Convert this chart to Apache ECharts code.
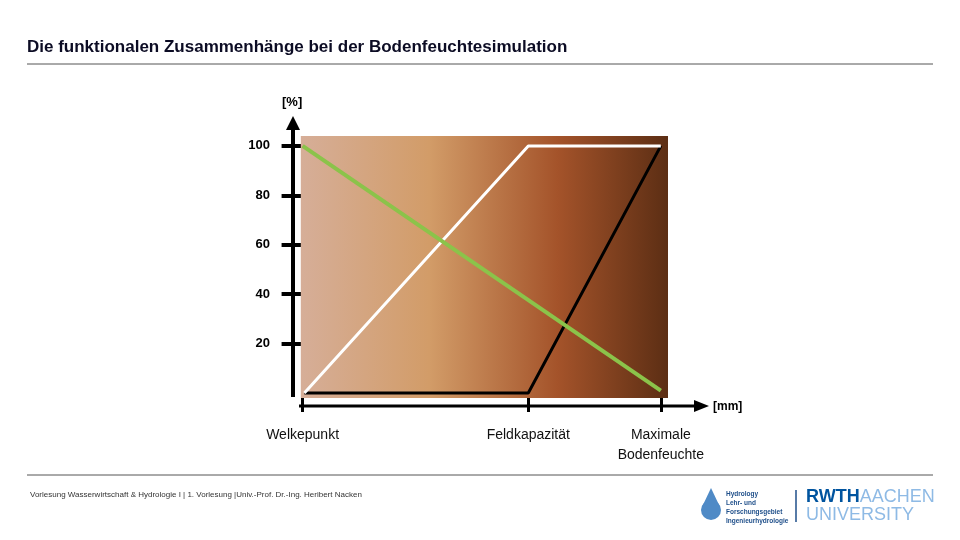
<!DOCTYPE html>
<html><head><meta charset="utf-8">
<script src="https://cdn.jsdelivr.net/npm/echarts@6/dist/echarts.min.js"></script>
<style>html,body{margin:0;padding:0;background:#fff}#c{width:960px;height:540px}</style>
</head><body><div id="c"></div>
<script>
// x: Bodenfeuchte [mm], y: Anteil [%]
var xTicks = [0, 63, 100];
var xTickNames = ['Welkepunkt', 'Feldkapazität', 'Maximale\nBodenfeuchte'];
var yTicks = [20, 40, 60, 80, 100];
var infiltration = [[0, 100], [100, 1]];
var evapo = [[0.5, 0], [63, 100], [100, 100]];
var perkolation = [[0.5, 0], [63, 0], [100, 100]];

var chart = echarts.init(document.getElementById('c'));
var font = 'Liberation Sans, Arial, sans-serif';
chart.setOption({
  animation: false,
  grid: { left: 299, right: 292, top: 136, bottom: 142 },
  xAxis: {
    type: 'value', min: -1, max: 102,
    splitLine: { show: false },
    axisLine: { show: false },
    axisTick: { show: true, customValues: xTicks, length: 19, lineStyle: { color: '#000', width: 3 } },
    axisLabel: {
      customValues: xTicks, margin: 27, color: '#111', fontSize: 14, fontFamily: font, lineHeight: 20,
      formatter: function (v) { return xTickNames[xTicks.indexOf(v)]; }
    }
  },
  yAxis: {
    type: 'value', min: -2, max: 104,
    splitLine: { show: false },
    axisLine: { show: false },
    axisTick: { show: true, customValues: yTicks, length: 21, lineStyle: { color: '#000', width: 4 } },
    axisLabel: { customValues: yTicks, margin: 29, color: '#000', fontSize: 13, fontWeight: 'bold', fontFamily: font }
  },
  series: [
    {
      type: 'line', data: [], silent: true,
      markArea: {
        silent: true,
        itemStyle: {
          color: new echarts.graphic.LinearGradient(0, 0, 1, 0, [
            { offset: 0, color: '#d6ae98' },
            { offset: 0.35, color: '#d29c68' },
            { offset: 0.7, color: '#a4532a' },
            { offset: 1, color: '#5c2e14' }
          ])
        },
        data: [[{ coord: [-0.5, -2] }, { coord: [102, 104] }]]
      }
    },
    { type: 'line', data: perkolation, symbol: 'none', lineStyle: { color: '#000', width: 3 } },
    { type: 'line', data: evapo, symbol: 'none', lineStyle: { color: '#ffffff', width: 3 } },
    { type: 'line', data: infiltration, symbol: 'none', lineStyle: { color: '#8bc34a', width: 4 } }
  ],
  graphic: [
    { type: 'text', left: 27, top: 39, style: { text: 'Die funktionalen Zusammenhänge bei der Bodenfeuchtesimulation', fontSize: 17, fontWeight: 'bold', fontFamily: font, fill: '#0c0c24' } },
    { type: 'line', shape: { x1: 27, y1: 64, x2: 933, y2: 64 }, style: { stroke: '#555', lineWidth: 1 } },
    // axes with arrows
    { type: 'line', shape: { x1: 293, y1: 397, x2: 293, y2: 128 }, style: { stroke: '#000', lineWidth: 4 } },
    { type: 'polygon', shape: { points: [[286, 130], [300, 130], [293, 116]] }, style: { fill: '#000' } },
    { type: 'line', shape: { x1: 299, y1: 406, x2: 698, y2: 406 }, style: { stroke: '#000', lineWidth: 3 } },
    { type: 'polygon', shape: { points: [[694, 400], [694, 412], [709, 406]] }, style: { fill: '#000' } },
    { type: 'text', left: 282, top: 96, style: { text: '[%]', fontSize: 13, fontWeight: 'bold', fontFamily: font, fill: '#000' } },
    { type: 'text', left: 713, top: 401, style: { text: '[mm]', fontSize: 12, fontWeight: 'bold', fontFamily: font, fill: '#000' } },
    // curve labels
    { type: 'text', left: 368, top: 158, style: { text: 'Infiltration', fontSize: 14, fontFamily: font, fill: '#fbeede' } },
    { type: 'text', left: 495, top: 216, style: { text: 'Evapo-\ntranspiration', fontSize: 14, lineHeight: 18, fontFamily: font, fill: '#fbeede' } },
    { type: 'text', left: 362, top: 371, style: { text: 'Perkolation', fontSize: 14, fontFamily: font, fill: '#fbeede' } },
    // footer
    { type: 'line', shape: { x1: 27, y1: 475, x2: 933, y2: 475 }, style: { stroke: '#555', lineWidth: 1 } },
    { type: 'text', left: 30, top: 491, style: { text: 'Vorlesung Wasserwirtschaft & Hydrologie I | 1. Vorlesung |Univ.-Prof. Dr.-Ing. Heribert Nacken', fontSize: 8, fontFamily: font, fill: '#333' } },
    { type: 'circle', shape: { cx: 711, cy: 510, r: 10 }, style: { fill: '#4f8ac6' } },
    { type: 'polygon', shape: { points: [[702, 507], [711, 488], [720, 507]] }, style: { fill: '#4f8ac6' } },
    { type: 'text', left: 726, top: 490, style: { text: 'Hydrology\nLehr- und\nForschungsgebiet\nIngenieurhydrologie', fontSize: 6.5, lineHeight: 9, fontWeight: 'bold', fontFamily: font, fill: '#1f4f8a' } },
    { type: 'line', shape: { x1: 796, y1: 490, x2: 796, y2: 522 }, style: { stroke: '#1f4f8a', lineWidth: 1.5 } },
    { type: 'text', left: 806, top: 488, style: { text: '{a|RWTH}{b|AACHEN}\n{b|UNIVERSITY}', align: 'right', rich: {
      a: { fontSize: 18, fontWeight: 'bold', fontFamily: 'Liberation Sans Narrow, Arial, sans-serif', fill: '#00549f', lineHeight: 18 },
      b: { fontSize: 18, fontFamily: 'Liberation Sans Narrow, Arial, sans-serif', fill: '#8ebae5', lineHeight: 18 }
    } } }
  ]
});
</script></body></html>
